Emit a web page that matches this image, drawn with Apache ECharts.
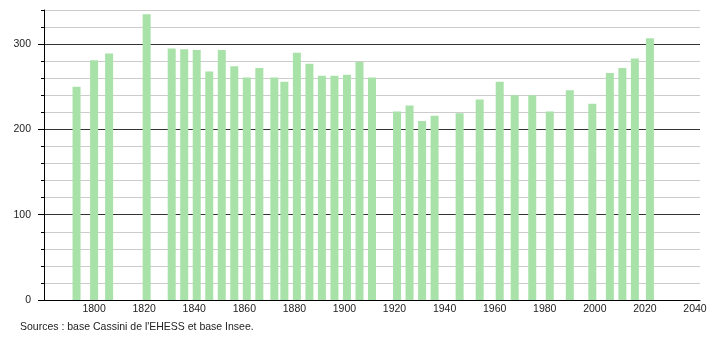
<!DOCTYPE html>
<html>
<head>
<meta charset="utf-8">
<script src="https://cdn.jsdelivr.net/npm/echarts@6/dist/echarts.min.js"></script>
<style>
html,body{margin:0;padding:0;background:#fff;}
#chart{width:710px;height:340px;}
</style>
</head>
<body>
<div id="chart"></div>
<script>
const years = [1793,1800,1806,1821,1831,1836,1841,1846,1851,1856,1861,1866,1872,1876,1881,1886,1891,1896,1901,1906,1911,1921,1926,1931,1936,1946,1954,1962,1968,1975,1982,1990,1999,2006,2011,2016,2022];
const population = [250,281,289,335,295,294,293,268,293,274,261,272,261,256,290,277,263,263,264,279,261,221,228,210,216,219,235,256,240,240,221,246,230,266,272,283,307];
const xLabels = [1800,1820,1840,1860,1880,1900,1920,1940,1960,1980,2000,2020,2040];
const yLabels = [0,100,200,300];
const sourceText = "Sources : base Cassini de l'EHESS et base Insee.";

const chart = echarts.init(document.getElementById('chart'), null, {renderer:'canvas'});
const font = 'Liberation Sans, Arial, sans-serif';
chart.setOption({
  animation:false,
  backgroundColor:'#fff',
  grid:{left:44,right:10,top:10,bottom:40,containLabel:false},
  xAxis:{
    type:'value', min:1780, max:2042,
    axisLine:{show:true,onZero:false,lineStyle:{color:'#000',width:1}},
    axisTick:{show:false},
    splitLine:{show:false},
    axisLabel:{customValues:xLabels,formatter:v=>String(v),color:'#222',fontSize:10.5,fontFamily:font,margin:4}
  },
  yAxis:[{
    type:'value', min:0, max:340, interval:20,
    axisLine:{show:true,lineStyle:{color:'#000',width:1}},
    axisTick:{show:true,length:3,lineStyle:{color:'#000'}},
    splitLine:{show:true,lineStyle:{color:['#333','#ccc','#ccc','#ccc','#ccc'],width:1}},
    axisLabel:{customValues:yLabels,formatter:v=>String(v),color:'#222',fontSize:10.5,fontFamily:font,margin:13}
  },{
    type:'value', min:0, max:340, position:'left',
    axisLine:{show:false},
    axisTick:{show:true,length:6,customValues:yLabels,lineStyle:{color:'#000'}},
    axisLabel:{show:false},
    splitLine:{show:false}
  }],
  series:[{
    type:'bar',
    data:years.map((y,i)=>[y,population[i]]),
    barWidth:8,
    itemStyle:{color:'#a9e2a9'},
    z:3
  }],
  graphic:[{
    type:'text', left:20, top:322,
    style:{text:sourceText,fill:'#222',fontSize:10.5,fontFamily:font}
  }]
});
</script>
</body>
</html>
